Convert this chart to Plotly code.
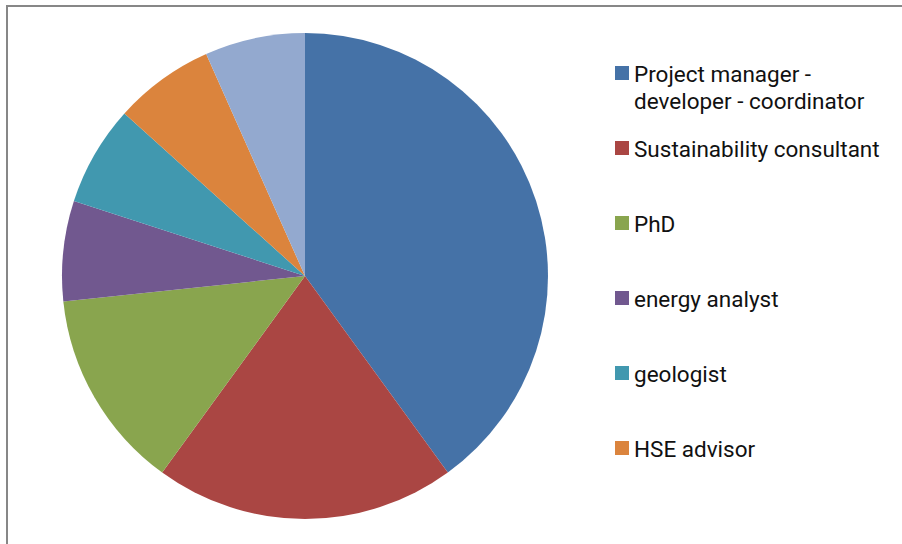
import plotly.graph_objects as go

labels = ["Project manager - developer - coordinator", "Sustainability consultant", "PhD",
          "energy analyst", "geologist", "HSE advisor", "other"]
values = [6, 3, 2, 1, 1, 1, 1]
colors = ["#4572A7", "#AA4643", "#89A54E", "#71588F", "#4198AF", "#DB843D", "#93A9CF"]
legend_lines = [["Project manager -", "developer - coordinator"], ["Sustainability consultant"], ["PhD"],
                ["energy analyst"], ["geologist"], ["HSE advisor"]]

W, H = 902, 544
fig = go.Figure()
fig.add_trace(go.Pie(
    labels=labels, values=values, sort=False, direction="clockwise", rotation=0,
    marker=dict(colors=colors, line=dict(width=0)), textinfo="none", hoverinfo="label+percent",
    showlegend=False,
    domain=dict(x=[62 / W, 548 / W], y=[1 - 519 / H, 1 - 33 / H]),
))

def px(x):
    return x / W

def py(y):
    return 1 - y / H

shapes = [dict(type="rect", xref="paper", yref="paper", x0=px(7), x1=px(1000), y0=py(700), y1=py(6),
               line=dict(color="#878787", width=2), fillcolor="rgba(0,0,0,0)")]
annotations = []
marker_y = [73, 148, 223, 298, 373, 448]
for i, lines in enumerate(legend_lines):
    cy = marker_y[i]
    shapes.append(dict(type="rect", xref="paper", yref="paper", x0=px(615), x1=px(629),
                       y0=py(cy + 7), y1=py(cy - 7), fillcolor=colors[i], line=dict(width=0)))
    for j, t in enumerate(lines):
        annotations.append(dict(text=t, xref="paper", yref="paper", x=px(632), y=py(cy + 1 + 27 * j),
                                xanchor="left", yanchor="middle", showarrow=False,
                                font=dict(family="Roboto", size=22.5, color="#111111")))

fig.update_layout(width=W, height=H, margin=dict(l=0, r=0, t=0, b=0), paper_bgcolor="white",
                  plot_bgcolor="white", shapes=shapes, annotations=annotations)
fig.write_html("out.html", config={"displayModeBar": False},
               post_script="document.body.style.margin='0';")
